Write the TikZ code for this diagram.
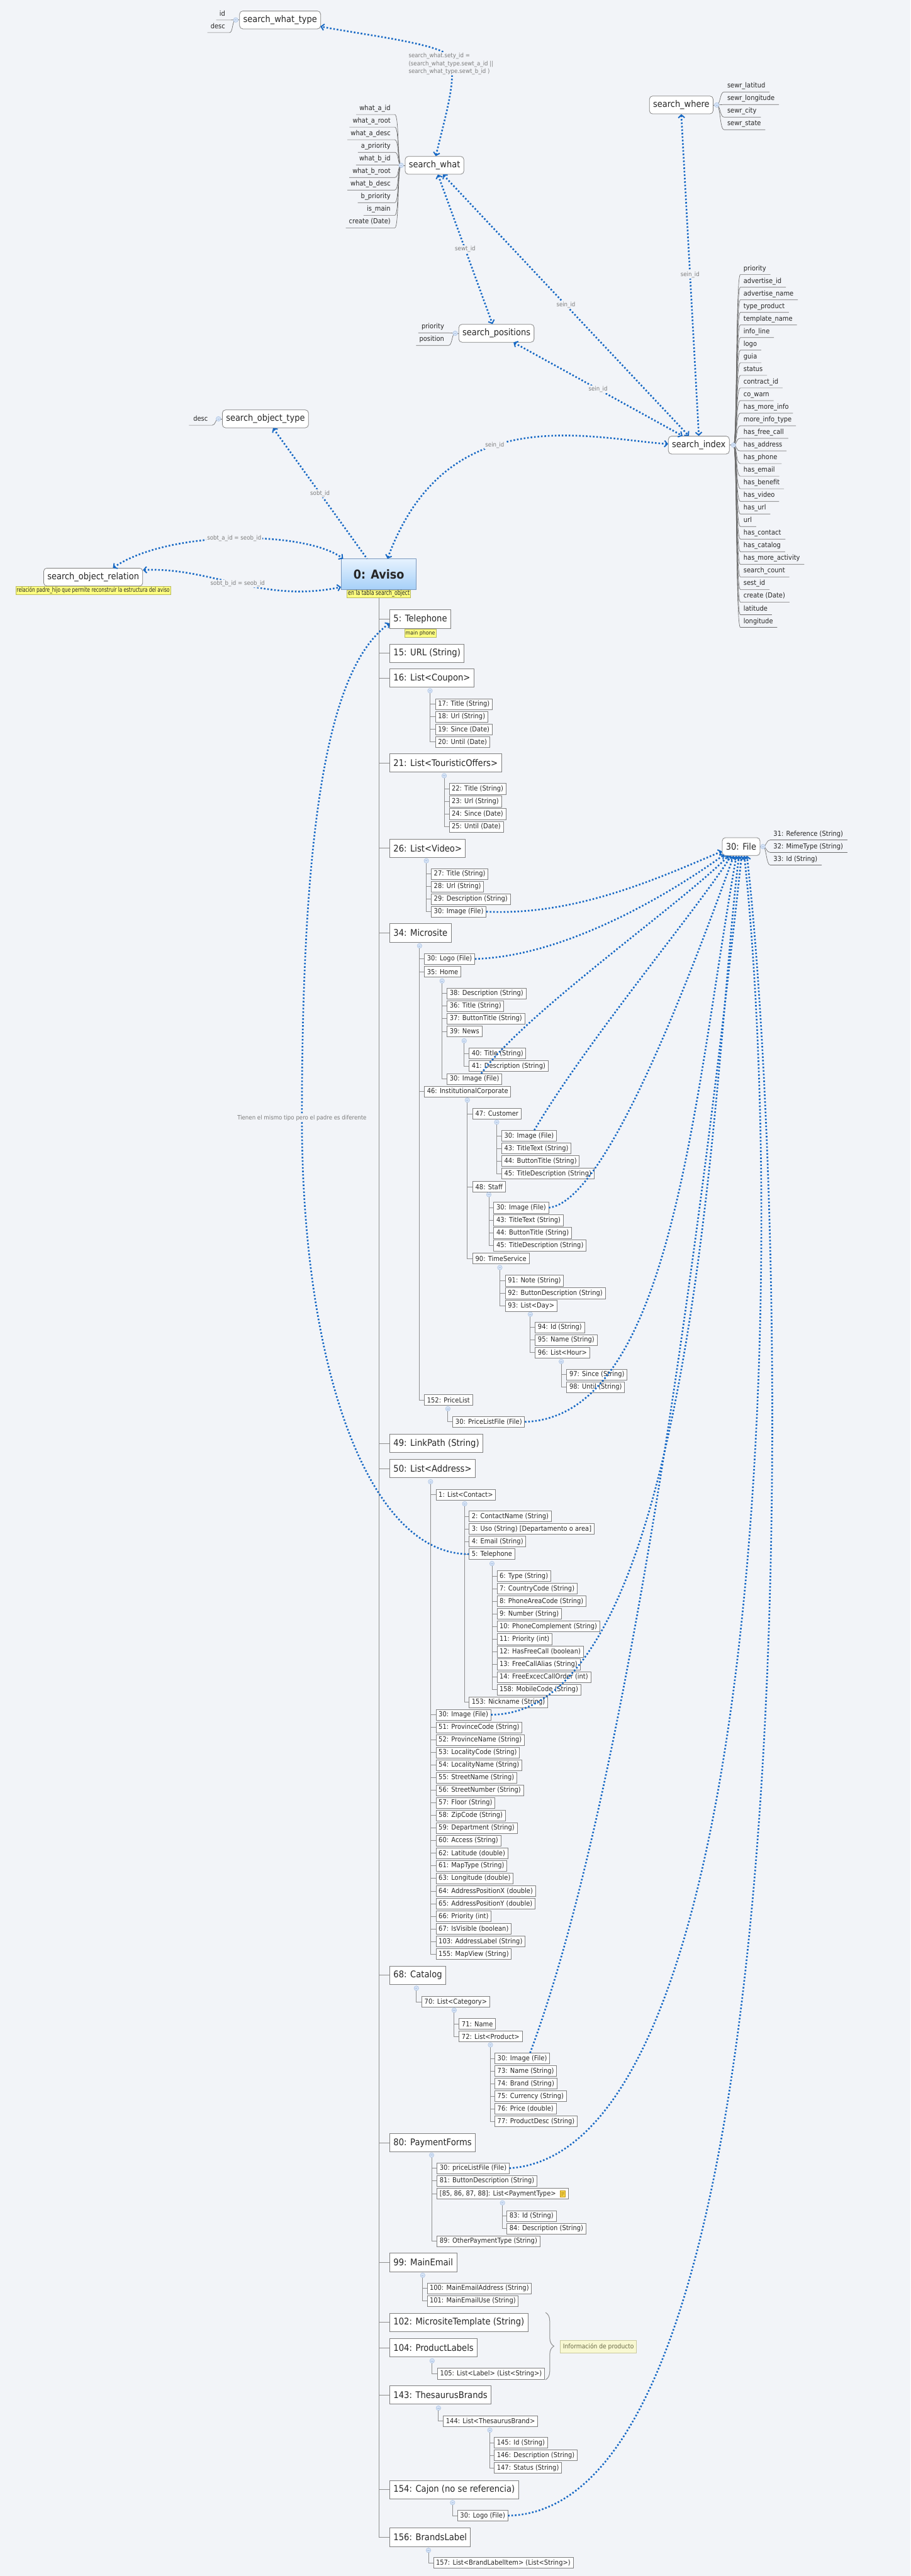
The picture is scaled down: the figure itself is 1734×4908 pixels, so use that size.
\documentclass[tikz,border=0pt]{standalone}
\usepackage{fontspec}
\setmainfont{DejaVu Sans}[FakeStretch=0.9]
\newfontfamily\narrowfont{DejaVu Sans}[FakeStretch=0.72]
\usetikzlibrary{arrows.meta,decorations.pathreplacing}
\definecolor{bg}{HTML}{F2F4F8}
\definecolor{boxc}{HTML}{7F7F7F}
\definecolor{treec}{HTML}{8E8E8E}
\definecolor{relc}{HTML}{1668C4}
\definecolor{lblc}{HTML}{7D7D7D}
\definecolor{txt}{HTML}{262626}
\definecolor{juncf}{HTML}{D6E3F5}
\definecolor{juncd}{HTML}{A7C0E3}
\definecolor{ynotef}{HTML}{FFFF80}
\definecolor{ynoteb}{HTML}{B8B860}
\definecolor{avt}{HTML}{E6F2FE}
\definecolor{avb}{HTML}{A6D0F8}
\definecolor{avd}{HTML}{7A98BE}
\definecolor{infof}{HTML}{F8F8D2}
\definecolor{infob}{HTML}{CACA9E}
\definecolor{infot}{HTML}{6A6A48}
\definecolor{iconf}{HTML}{F5D547}
\definecolor{iconb}{HTML}{C2941A}
\definecolor{attrc}{HTML}{6E6E6E}
\tikzset{
  topbox/.style={draw=boxc, fill=white, rounded corners=6pt, line width=0.9pt, text=txt,
    font=\fontsize{17.3}{20}\selectfont, inner xsep=7pt, minimum height=34pt},
  lone/.style={draw=boxc, fill=white, line width=0.9pt, text=txt,
    font=\fontsize{17.5}{20}\selectfont, inner xsep=7pt, minimum height=35pt, anchor=west},
  sub/.style={draw=boxc, fill=white, line width=0.9pt, text=txt,
    font=\fontsize{13.2}{15}\selectfont, inner xsep=5pt, inner ysep=1pt, minimum height=20.5pt, anchor=west},
  attr/.style={font=\fontsize{13.2}{15}\selectfont, text=txt, inner xsep=3pt, inner ysep=4.5pt,
    text height=10pt, text depth=3pt},
  attrl/.style={draw=attrc, line width=0.8pt},
  lbl/.style={font=\fontsize{11.5}{15}\selectfont, text=lblc, fill=bg, inner sep=1.5pt},
  rel/.style={draw=relc, line width=3.2pt, dash pattern=on 3pt off 3.6pt,
    >={Straight Barb[length=5.5pt,width=12pt,line width=2.3pt]}},
  tree/.style={draw=treec, line width=1pt},
  junc/.style={circle, draw=juncd, fill=juncf, line width=0.6pt, minimum size=9pt, inner sep=0pt,
    path picture={\draw[juncd, line width=0.6pt] ([xshift=-2pt]path picture bounding box.center) -- ([xshift=2pt]path picture bounding box.center);}},
  ynote/.style={draw=ynoteb, fill=ynotef, line width=0.6pt, text=txt, inner xsep=2pt, inner ysep=1pt, minimum height=15pt},
}
\newcommand\mykids[5]{%
  \foreach \itm [count=\i] in {#5} {
    \node[sub] (#4\i) at (#2, {#3+24*(\i-1)}) {\itm};
    \draw[tree] (#1) |- (#4\i.west);
  }%
}
\begin{document}
\begin{tikzpicture}[x=1pt,y=-1pt]
\useasboundingbox (0,0) rectangle (1734,4908);
\fill[bg] (0,0) rectangle (1734,4908);

% ---------- search tables ----------
\node[topbox] (swt) at (533.5,38) {search\_what\_type};
\node[topbox] (sw) at (827.5,315) {search\_what};
\node[topbox] (sp) at (945.5,635) {search\_positions};
\node[topbox] (swh) at (1297.5,200) {search\_where};
\node[topbox] (si) at (1331,848) {search\_index};
\node[topbox] (sot) at (505.5,798) {search\_object\_type};
\node[topbox] (sor) at (177.5,1099.5) {search\_object\_relation};
\node[topbox] (file) at (1411.5,1613) {30: File};

\coordinate (jswt) at (449,38);
\coordinate (jsw) at (764,315);
\coordinate (jsp) at (867,635);
\coordinate (jsot) at (416,798);
\coordinate (jswh) at (1365,200);
\coordinate (jsi) at (1397,848);
\coordinate (jfile) at (1453,1613);

\draw[attrl] (swt.west) -- (jswt);
\draw[attrl] (sw.west) -- (jsw);
\draw[attrl] (sp.west) -- (jsp);
\draw[attrl] (sot.west) -- (jsot);
\draw[attrl] (swh.east) -- (jswh);
\draw[attrl] (si.east) -- (jsi);
\draw[attrl] (file.east) -- (jfile);

% left lists
\foreach \itm [count=\i] in {id,desc} {
  \node[attr,anchor=east] (swta\i) at (432,{3+24*\i}) {\itm};
  \draw[attrl] ([xshift=-3pt]swta\i.south west) -- ([xshift=5pt]swta\i.south east) .. controls +(7,0) and +(-7,0) .. (jswt);
}
\foreach \itm [count=\i] in {what\_a\_id,what\_a\_root,what\_a\_desc,a\_priority,what\_b\_id,what\_b\_root,what\_b\_desc,b\_priority,is\_main,create (Date)} {
  \node[attr,anchor=east] (swa\i) at (747,{183+24*\i}) {\itm};
  \draw[attrl] ([xshift=-3pt]swa\i.south west) -- ([xshift=5pt]swa\i.south east) .. controls +(8,0) and +(-7,0) .. (jsw);
}
\foreach \itm [count=\i] in {priority,position} {
  \node[attr,anchor=east] (spa\i) at (849,{599+24*\i}) {\itm};
  \draw[attrl] ([xshift=-3pt]spa\i.south west) -- ([xshift=5pt]spa\i.south east) .. controls +(8,0) and +(-7,0) .. (jsp);
}
\node[attr,anchor=east] (sota1) at (399,799) {desc};
\draw[attrl] ([xshift=-5pt]sota1.south west) -- ([xshift=5pt]sota1.south east) .. controls +(7,0) and +(-6,0) .. (jsot);

% right lists
\foreach \itm [count=\i] in {sewr\_latitud,sewr\_longitude,sewr\_city,sewr\_state} {
  \node[attr,anchor=west] (swha\i) at (1382,{140+24*\i}) {\itm};
  \draw[attrl] ([xshift=5pt]swha\i.south east) -- ([xshift=-3pt]swha\i.south west) .. controls +(-8,0) and +(7,0) .. (jswh);
}
\foreach \itm [count=\i] in {priority,advertise\_id,advertise\_name,type\_product,template\_name,info\_line,logo,guia,status,contract\_id,co\_warn,has\_more\_info,more\_info\_type,has\_free\_call,has\_address,has\_phone,has\_email,has\_benefit,has\_video,has\_url,url,has\_contact,has\_catalog,has\_more\_activity,search\_count,sest\_id,create (Date),latitude,longitude} {
  \node[attr,anchor=west] (sia\i) at (1413,{488+24*\i}) {\itm};
  \draw[attrl] ([xshift=5pt]sia\i.south east) -- ([xshift=-3pt]sia\i.south west) .. controls +(-9,0) and +(7,0) .. (jsi);
}
\foreach \itm [count=\i] in {31: Reference (String),32: MimeType (String),33: Id (String)} {
  \node[attr,anchor=west] (fa\i) at (1470,{1565+24*\i}) {\itm};
  \draw[attrl] ([xshift=5pt]fa\i.south east) -- ([xshift=-3pt]fa\i.south west) .. controls +(-8,0) and +(7,0) .. (jfile);
}

% ---------- Aviso ----------
\node[draw=avd, line width=0.9pt, top color=avt, bottom color=avb, minimum width=143pt, minimum height=58pt,
  font=\bfseries\fontsize{23.5}{26}\selectfont, text=txt] (av) at (721.5,1094) {0: Aviso};
\node[ynote, anchor=north, font=\narrowfont\fontsize{13}{15}\selectfont] (avn) at (av.south) {en la tabla search\_object};
\node[ynote, anchor=north, font=\narrowfont\fontsize{12.2}{14}\selectfont] (sorn) at (sor.south) {relación padre\_hijo que permite reconstruir la estructura del aviso};

% level 1
\node[lone] (n5) at (742,1179.5) {5: Telephone};
\node[ynote, anchor=north, font=\fontsize{10.5}{12}\selectfont] (n5n) at ([yshift=-1pt]n5.south) {main phone};
\node[lone] (n15) at (742,1244.5) {15: URL (String)};
\node[lone] (n16) at (742,1292) {16: List<Coupon>};
\node[lone] (n21) at (742,1453.5) {21: List<TouristicOffers>};
\node[lone] (n26) at (742,1616) {26: List<Video>};
\node[lone] (n34) at (742,1777.5) {34: Microsite};
\node[lone] (n49) at (742,2750) {49: LinkPath (String)};
\node[lone] (n50) at (742,2798) {50: List<Address>};
\node[lone] (n68) at (742,3763.5) {68: Catalog};
\node[lone] (n80) at (742,4082.5) {80: PaymentForms};
\node[lone] (n99) at (742,4310.5) {99: MainEmail};
\node[lone] (n102) at (742,4424.5) {102: MicrositeTemplate (String)};
\node[lone] (n104) at (742,4473) {104: ProductLabels};
\node[lone] (n143) at (742,4563) {143: ThesaurusBrands};
\node[lone] (n154) at (742,4743.5) {154: Cajon (no se referencia)};
\node[lone] (n156) at (742,4834) {156: BrandsLabel};
\foreach \n in {n5,n15,n16,n21,n26,n34,n49,n50,n68,n80,n99,n102,n104,n143,n154,n156}
  \draw[tree] (avn.south) |- (\n.west);

% coupon, offers, video
\coordinate (j16) at (819,1316);
\mykids{j16}{829}{1341.5}{c16-}{17: Title (String), 18: Url (String), 19: Since (Date), 20: Until (Date)}
\coordinate (j21) at (846,1478);
\mykids{j21}{855}{1503}{c21-}{22: Title (String), 23: Url (String), 24: Since (Date), 25: Until (Date)}
\coordinate (j26) at (812,1640);
\mykids{j26}{821}{1665}{c26-}{27: Title (String), 28: Url (String), 29: Description (String), 30: Image (File)}

% microsite
\coordinate (j34) at (799,1802);
\node[sub] (m30) at (808,1827) {30: Logo (File)};
\node[sub] (n35) at (808,1851.5) {35: Home};
\node[sub] (n46) at (808,2080) {46: InstitutionalCorporate};
\node[sub] (n152) at (808,2667.5) {152: PriceList};
\foreach \n in {m30,n35,n46,n152} \draw[tree] (j34) |- (\n.west);
\coordinate (j35) at (842,1869);
\node[sub] (h38) at (851,1893) {38: Description (String)};
\node[sub] (h36) at (851,1917) {36: Title (String)};
\node[sub] (h37) at (851,1941) {37: ButtonTitle (String)};
\node[sub] (n39) at (851,1965) {39: News};
\node[sub] (h30) at (851,2056) {30: Image (File)};
\foreach \n in {h38,h36,h37,n39,h30} \draw[tree] (j35) |- (\n.west);
\coordinate (j39) at (884,1983);
\mykids{j39}{893}{2007}{c39-}{40: Title (String), 41: Description (String)}
\coordinate (j46) at (890,2096);
\node[sub] (n47) at (900,2122) {47: Customer};
\node[sub] (n48) at (900,2261) {48: Staff};
\node[sub] (n90) at (900,2398) {90: TimeService};
\foreach \n in {n47,n48,n90} \draw[tree] (j46) |- (\n.west);
\coordinate (j47) at (946,2138);
\mykids{j47}{955}{2164}{c47-}{30: Image (File), 43: TitleText (String), 44: ButtonTitle (String), 45: TitleDescription (String)}
\coordinate (j48) at (931,2276);
\mykids{j48}{940}{2301}{c48-}{30: Image (File), 43: TitleText (String), 44: ButtonTitle (String), 45: TitleDescription (String)}
\coordinate (j90) at (952,2415);
\node[sub] (t91) at (962,2440) {91: Note (String)};
\node[sub] (t92) at (962,2464) {92: ButtonDescription (String)};
\node[sub] (n93) at (962,2488) {93: List<Day>};
\foreach \n in {t91,t92,n93} \draw[tree] (j90) |- (\n.west);
\coordinate (j93) at (1010,2504);
\node[sub] (d94) at (1019,2529) {94: Id (String)};
\node[sub] (d95) at (1019,2553) {95: Name (String)};
\node[sub] (n96) at (1019,2577) {96: List<Hour>};
\foreach \n in {d94,d95,n96} \draw[tree] (j93) |- (\n.west);
\coordinate (j96) at (1069,2594);
\mykids{j96}{1079}{2619}{c96-}{97: Since (String), 98: Until (String)}
\coordinate (j152) at (853,2684);
\mykids{j152}{862}{2709}{c152-}{30: PriceListFile (File)}

% address
\coordinate (j50) at (820,2823);
\node[sub] (n1) at (830,2848) {1: List<Contact>};
\draw[tree] (j50) |- (n1.west);
\mykids{j50}{830}{3267}{c50-}{30: Image (File), 51: ProvinceCode (String), 52: ProvinceName (String), 53: LocalityCode (String), 54: LocalityName (String), 55: StreetName (String), 56: StreetNumber (String), 57: Floor (String), 58: ZipCode (String), 59: Department (String), 60: Access (String), 62: Latitude (double), 61: MapType (String), 63: Longitude (double), 64: AddressPositionX (double), 65: AddressPositionY (double), 66: Priority (int), 67: IsVisible (boolean), 103: AddressLabel (String), 155: MapView (String)}
\coordinate (j1) at (885,2865);
\node[sub] (k2) at (893,2889) {2: ContactName (String)};
\node[sub] (k3) at (893,2913) {3: Uso (String) [Departamento o area]};
\node[sub] (k4) at (893,2937) {4: Email (String)};
\node[sub] (t5) at (893,2961) {5: Telephone};
\node[sub] (k153) at (893,3243) {153: Nickname (String)};
\foreach \n in {k2,k3,k4,t5,k153} \draw[tree] (j1) |- (\n.west);
\coordinate (j5) at (937,2979);
\mykids{j5}{946}{3003}{c5-}{6: Type (String), 7: CountryCode (String), 8: PhoneAreaCode (String), 9: Number (String), 10: PhoneComplement (String), 11: Priority (int), 12: HasFreeCall (boolean), 13: FreeCallAlias (String), 14: FreeExcecCallOrder (int), 158: MobileCode (String)}

% catalog
\coordinate (j68) at (793,3788);
\node[sub] (n70) at (803,3814) {70: List<Category>};
\draw[tree] (j68) |- (n70.west);
\coordinate (j70) at (865,3830);
\node[sub] (g71) at (874,3856) {71: Name};
\node[sub] (n72) at (874,3880) {72: List<Product>};
\foreach \n in {g71,n72} \draw[tree] (j70) |- (\n.west);
\coordinate (j72) at (934,3896);
\mykids{j72}{942}{3922}{c72-}{30: Image (File), 73: Name (String), 74: Brand (String), 75: Currency (String), 76: Price (double), 77: ProductDesc (String)}

% payment forms
\coordinate (j80) at (822,4106);
\node[sub] (pf30) at (832,4131) {30: priceListFile (File)};
\node[sub] (pf81) at (832,4155) {81: ButtonDescription (String)};
\node[sub] (n85) at (832,4179.5) {[85, 86, 87, 88]: List<PaymentType>\hspace*{19pt}};
\node[sub] (pf89) at (832,4270) {89: OtherPaymentType (String)};
\foreach \n in {pf30,pf81,n85,pf89} \draw[tree] (j80) |- (\n.west);
\node[draw=iconb, fill=iconf, line width=0.6pt, minimum width=10pt, minimum height=12pt, inner sep=0pt] (ic85) at ([xshift=-11.5pt]n85.east) {};
\draw[iconb, line width=0.6pt] ([xshift=-3pt,yshift=2.5pt]ic85.center) -- ++(6,0)
  ([xshift=-3pt]ic85.center) -- ++(6,0) ([xshift=-3pt,yshift=-2.5pt]ic85.center) -- ++(4,0);
\coordinate (j85) at (957,4197);
\mykids{j85}{965}{4222}{c85-}{83: Id (String), 84: Description (String)}

% main email, labels, thesaurus, cajon, brands
\coordinate (j99) at (805,4335);
\mykids{j99}{813}{4360}{c99-}{100: MainEmailAddress (String), 101: MainEmailUse (String)}
\coordinate (j104) at (823,4498);
\mykids{j104}{833}{4522.5}{c104-}{105: List<Label> (List<String>)}
\coordinate (j143) at (835,4588);
\node[sub] (n144) at (844,4613) {144: List<ThesaurusBrand>};
\draw[tree] (j143) |- (n144.west);
\coordinate (j144) at (933,4630);
\mykids{j144}{941}{4654}{c144-}{145: Id (String), 146: Description (String), 147: Status (String)}
\coordinate (j154) at (862,4768);
\mykids{j154}{871}{4793}{c154-}{30: Logo (File)}
\coordinate (j156) at (816,4859);
\mykids{j156}{825}{4883}{c156-}{157: List<BrandLabelItem> (List<String>)}

% brace + note
\draw[draw=treec, line width=1.2pt, decorate, decoration={brace, amplitude=16pt}] (1039,4406) -- (1039,4534);
\node[draw=infob, fill=infof, text=infot, line width=0.7pt, font=\fontsize{12.2}{14}\selectfont, minimum height=24pt, inner xsep=5pt, anchor=west] (info) at (1067,4471) {Información de producto};

% junction circles
\foreach \j in {j16,j21,j26,j34,j35,j39,j46,j47,j48,j90,j93,j96,j152,j50,j1,j5,j68,j70,j72,j80,j85,j99,j104,j143,j144,j154,j156,jswt,jsw,jsp,jsot,jswh,jsi,jfile}
  \node[junc] (c\j) at (\j) {};

% ---------- relations ----------
\draw[rel,<->] ([xshift=2.5pt]sw.north) .. controls (852,205) and (878,125) .. (846,100) .. controls (810,80) and (680,64) .. ([xshift=-1pt,yshift=5pt]swt.south east);
\node[lbl, align=left] (l1) at (859,122) {search\_what.sety\_id =\\(search\_what\_type.sewt\_a\_id ||\\search\_what\_type.sewt\_b\_id )};
\draw[rel,<->] ([xshift=6.5pt]sw.south) -- node[lbl] (l2) {sewt\_id} ([xshift=-7.5pt]sp.north);
\draw[rel,<->] ([xshift=16pt]sw.south) -- node[lbl] (l3) {sein\_id} ([xshift=-19pt]si.north);
\draw[rel,<->] ([xshift=32.5pt]sp.south) -- node[lbl] (l4) {sein\_id} ([xshift=-31pt]si.north);
\draw[rel,<->] (swh.south) -- node[lbl] (l5) {sein\_id} (si.north);
\draw[rel,<-] ([xshift=14.5pt]sot.south) -- node[lbl] (l6) {sobt\_id} ([xshift=-22.5pt]av.north);
\draw[rel,<->] ([xshift=16.5pt]av.north) .. controls (850,760) and (1120,835) .. node[lbl,pos=0.42] (l7) {sein\_id} ([yshift=2pt]si.west);
\draw[rel,<->] ([xshift=37.5pt]sor.north) .. controls (320,1010) and (580,1010) .. node[lbl,pos=0.5] (l8) {sobt\_a\_id = seob\_id} ([xshift=4pt]av.north west);
\draw[rel,<->] ([yshift=13.5pt]sor.east) .. controls (400,1080) and (500,1150) .. node[lbl,pos=0.5] (l9) {sobt\_b\_id = seob\_id} ([yshift=5pt]av.south west);
\draw[rel,<-] ([yshift=-8pt]n5.west) .. controls (640,1262) and (575,1500) .. (575,2130) .. controls (575,2600) and (700,2961) .. (t5.west);
\node[lbl] (l10) at (575,2130) {Tienen el mismo tipo pero el padre es diferente};

% to 30: File
\draw[rel,->] (c26-4.east) .. controls (1100,1745) and (1260,1670) .. ([yshift=-9pt]file.west);
\draw[rel,->] (m30.east) .. controls (1080,1822) and (1280,1700) .. ([xshift=4pt,yshift=2pt]file.south west);
\draw[rel,->] ([xshift=13pt]h30.north) .. controls (1000,1930) and (1300,1720) .. ([xshift=-24pt]file.south);
\draw[rel,->] ([xshift=10pt]c47-1.north) .. controls (1120,1980) and (1330,1730) .. ([xshift=-19pt]file.south);
\draw[rel,->] (c48-1.east) .. controls (1150,2290) and (1300,1900) .. ([xshift=-14pt]file.south);
\draw[rel,->] (c152-1.east) .. controls (1280,2700) and (1320,2100) .. ([xshift=-9pt]file.south);
\draw[rel,->] (c50-1.east) .. controls (1330,3265) and (1360,2000) .. ([xshift=-4pt]file.south);
\draw[rel,->] ([xshift=15pt]c72-1.north) .. controls (1200,3400) and (1340,2300) .. ([xshift=1pt]file.south);
\draw[rel,->] (pf30.east) .. controls (1450,4100) and (1500,2400) .. ([xshift=6pt]file.south);
\draw[rel,->] (c154-1.east) .. controls (1560,4780) and (1500,2300) .. ([xshift=11pt]file.south);
\end{tikzpicture}
\end{document}
